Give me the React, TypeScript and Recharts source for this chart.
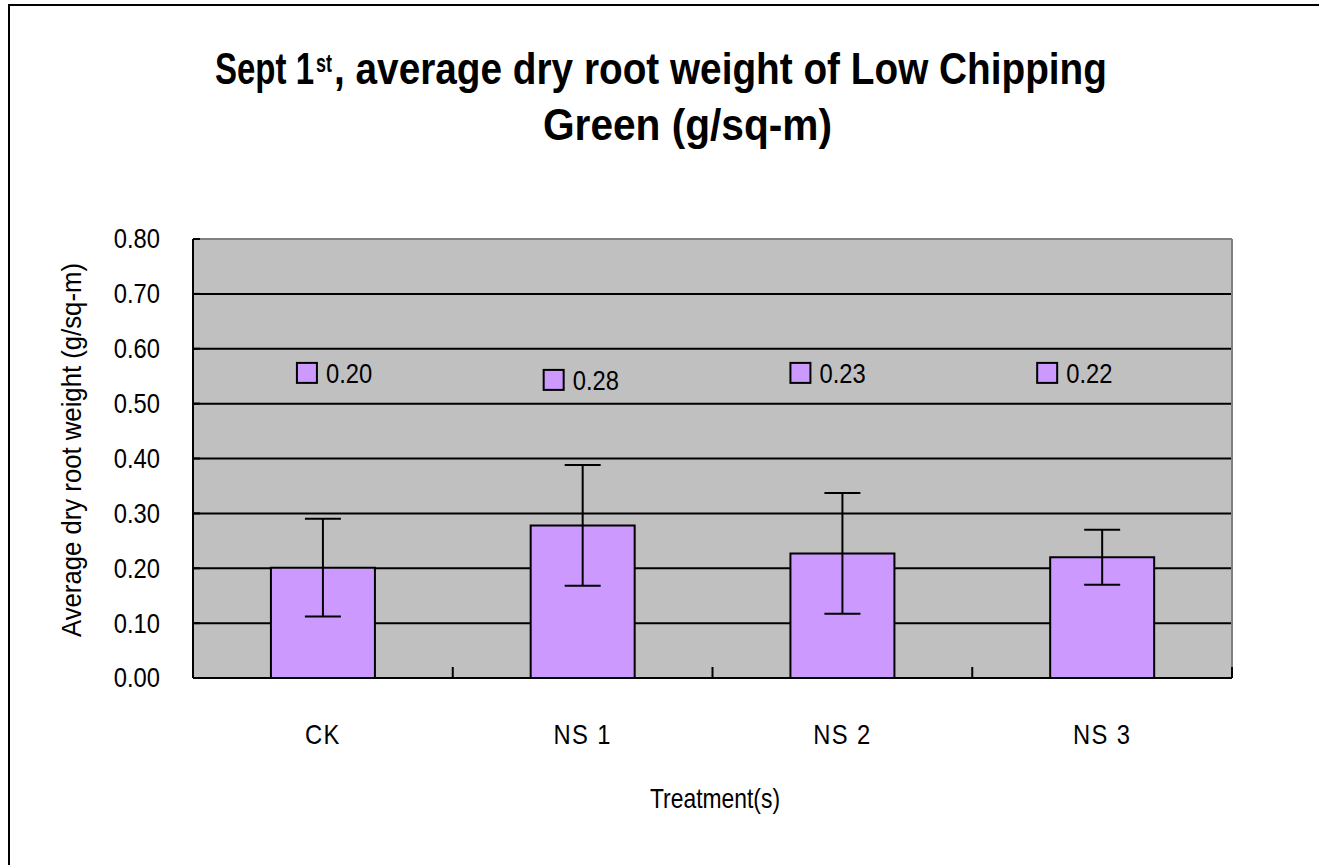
import React, { useLayoutEffect, useRef, useState } from 'react';
import {
  BarChart,
  Bar,
  XAxis,
  YAxis,
  CartesianGrid,
  ErrorBar,
  LabelList,
  ReferenceLine,
} from 'recharts';

// ---- data ----
const categories = ['CK', 'NS 1', 'NS 2', 'NS 3'];
const meanWeight = [0.201, 0.278, 0.227, 0.22];
const stdError = [0.089, 0.11, 0.11, 0.05];
const yTicks = [0, 0.1, 0.2, 0.3, 0.4, 0.5, 0.6, 0.7, 0.8];

const titleLine1Pre = 'Sept 1';
const titleSup = 'st';
const titleLine1Post = ', average dry root weight of Low Chipping';
const titleLine2 = 'Green (g/sq-m)';
const xTitle = 'Treatment(s)';
const yTitle = 'Average dry root weight (g/sq-m)';

const data = categories.map((c, i) => ({
  name: c,
  value: meanWeight[i],
  err: stdError[i],
}));

// ---- layout / style ----
const W = 1319;
const H = 865;
const PLOT_LEFT = 193;
const PLOT_RIGHT = 1232;
const PLOT_TOP = 239;
const PLOT_BOTTOM = 678;
const BAND_HALF = (PLOT_RIGHT - PLOT_LEFT) / categories.length / 2;
const FONT = '"Liberation Sans", Arial, Helvetica, sans-serif';
const SQUEEZE = 0.88;
const FS = 27;
const BAR_FILL = '#CC99FF';
const PLOT_BG = '#C0C0C0';
const LABEL_LEVEL = 0.556;

// text squeezed horizontally to a target width (keeps glyph height)
const FitText = (props: any) => {
  const { x, y, width, rotate = 0, children, ...rest } = props;
  const ref = useRef<SVGTextElement>(null);
  const [s, setS] = useState(SQUEEZE);
  useLayoutEffect(() => {
    if (ref.current) {
      const w = ref.current.getComputedTextLength();
      if (w > 0) setS(width / w);
    }
  }, [width]);
  return (
    <text
      ref={ref}
      transform={`translate(${x} ${y}) rotate(${rotate}) scale(${s} 1)`}
      fontFamily={FONT}
      fill="#000"
      {...rest}
    >
      {children}
    </text>
  );
};

const XTick = (props: any) => {
  const { x, y, payload, index } = props;
  const half =
    payload && typeof payload.offset === 'number' && payload.offset > 0 ? payload.offset : BAND_HALF;
  const last = index === categories.length - 1;
  return (
    <g>
      <line x1={x - half} x2={x - half} y1={y} y2={y - 11} stroke="#000" strokeWidth={2} />
      {last && <line x1={x + half} x2={x + half} y1={y} y2={y - 11} stroke="#000" strokeWidth={2} />}
      <text
        transform={`translate(${x} ${y + 57}) scale(${SQUEEZE} 1)`}
        dy="0.35em"
        textAnchor="middle"
        fontFamily={FONT}
        fontSize={FS}
        letterSpacing={1.5}
        fill="#000"
      >
        {payload.value}
      </text>
    </g>
  );
};

const YTick = (props: any) => {
  const { x, y, payload } = props;
  return (
    <text
      transform={`translate(${x} ${y}) scale(${SQUEEZE} 1)`}
      dy="0.35em"
      textAnchor="end"
      fontFamily={FONT}
      fontSize={FS}
      fill="#000"
    >
      {Number(payload.value).toFixed(2)}
    </text>
  );
};

const renderLabel = (props: any) => {
  const { x, y, width, height, value, index } = props;
  const v = Number(value);
  if (!v) return null;
  const bottom = Number(y) + Number(height);
  const pxPerUnit = Number(height) / v;
  const cy = bottom - LABEL_LEVEL * pxPerUnit + (index === 1 ? 7 : 0);
  const cx = Number(x) + Number(width) / 2;
  const sq = cx - 26 - 13 * index;
  return (
    <g>
      <rect x={sq} y={cy - 10} width={20} height={20} fill={BAR_FILL} stroke="#000" strokeWidth={2} />
      <text
        transform={`translate(${sq + 29} ${cy}) scale(${SQUEEZE} 1)`}
        dy="0.36em"
        fontFamily={FONT}
        fontSize={FS}
        fill="#000"
      >
        {v.toFixed(2)}
      </text>
    </g>
  );
};

export default function App() {
  return (
    <div
      style={{
        position: 'absolute',
        left: 0,
        top: 0,
        width: W,
        height: H,
        overflow: 'hidden',
        background: '#fff',
      }}
    >
      <div
        style={{
          position: 'absolute',
          left: 8,
          top: 4,
          width: W + 50,
          height: H + 50,
          border: '2px solid #000',
          boxSizing: 'border-box',
        }}
      />
      <div style={{ position: 'absolute', left: 0, top: 0 }}>
        <BarChart
          width={W}
          height={H}
          data={data}
          margin={{ top: PLOT_TOP, right: W - PLOT_RIGHT, bottom: 0, left: PLOT_LEFT - 100 }}
          barCategoryGap="30%"
        >
          <CartesianGrid
            horizontal
            vertical={false}
            stroke="#000"
            strokeWidth={2}
            strokeOpacity={1}
            fill={PLOT_BG}
            fillOpacity={1}
          />
          <XAxis
            dataKey="name"
            height={H - PLOT_BOTTOM}
            tickSize={0}
            tickMargin={0}
            tickLine={false}
            axisLine={{ stroke: '#000', strokeWidth: 2 }}
            tick={<XTick />}
            interval={0}
          />
          <YAxis
            width={100}
            domain={[0, 0.8]}
            ticks={yTicks}
            interval={0}
            tickSize={-7}
            tickMargin={40}
            tickLine={{ stroke: '#000', strokeWidth: 2 }}
            axisLine={{ stroke: '#000', strokeWidth: 2 }}
            tick={<YTick />}
          />
          <ReferenceLine y={0.8} stroke="#808080" strokeWidth={2} />
          <ReferenceLine x="NS 3" position="end" stroke="#808080" strokeWidth={2} />
          <Bar dataKey="value" fill={BAR_FILL} stroke="#000" strokeWidth={2} isAnimationActive={false}>
            <ErrorBar dataKey="err" width={18} stroke="#000" strokeWidth={2} isAnimationActive={false} />
            <LabelList dataKey="value" content={renderLabel} />
          </Bar>
        </BarChart>
      </div>
      <svg
        width={W}
        height={H}
        style={{ position: 'absolute', left: 0, top: 0, pointerEvents: 'none' }}
      >
        <FitText x={215} y={84} width={99} fontWeight="bold" fontSize={44}>
          {titleLine1Pre}
        </FitText>
        <FitText x={316} y={72} width={16} fontWeight="bold" fontSize={26}>
          {titleSup}
        </FitText>
        <FitText x={334} y={84} width={773} fontWeight="bold" fontSize={44}>
          {titleLine1Post}
        </FitText>
        <FitText x={543} y={140} width={289} fontWeight="bold" fontSize={44}>
          {titleLine2}
        </FitText>
        <FitText x={650} y={808} width={130} fontSize={FS}>
          {xTitle}
        </FitText>
        <FitText x={81} y={637} width={374} rotate={-90} fontSize={FS}>
          {yTitle}
        </FitText>
      </svg>
    </div>
  );
}
